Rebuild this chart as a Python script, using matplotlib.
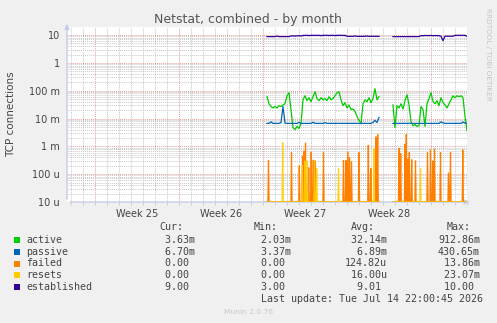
import numpy as np
import matplotlib
matplotlib.use("Agg")
import matplotlib.pyplot as plt

# ---------------------------------------------------------------------------
# Data (time in days since Monday of week 25, values in milli-connections)
# ---------------------------------------------------------------------------
X_MIN, X_MAX = -2.333, 31.0
WEEK_STARTS = [0, 7, 14, 21, 28]
WEEK_LABELS = ["Week 25", "Week 26", "Week 27", "Week 28"]
WEEK_MIDS = [3.5, 10.5, 17.5, 24.5]
Y_MIN, Y_MAX = 1e-5, 19.5
Y_TICKS = [1e-5, 1e-4, 1e-3, 1e-2, 1e-1, 1, 10]
Y_TICK_LABELS = ["10 u", "100 u", "1 m", "10 m", "100 m", "1", "10"]

SEG_A_START = 14.333
SEG_B_START = 24.833
STEP = 1 / 6          # 4 h samples

active_a = [61, 34, 27, 24, 27, 24, 29, 27, 31, 34,
            66, 85, 21, 4.7, 4.0, 5.2, 4.4, 6.5, 47, 66,
            44, 56, 40, 61, 92, 52, 44, 56, 47, 52,
            44, 61, 47, 52, 66, 85, 92, 47, 29, 37,
            24, 31, 21, 22, 18, 12, 8.5, 6.5, 34, 47,
            40, 56, 37, 52, 118, 47, 61]
active_b = [31, 4.7, 29, 24, 34, 22, 44, 72, 31, 7.7,
            5.5, 6.1, 5.2, 5.5, 27, 21, 5.2, 34, 52, 85,
            40, 34, 44, 29, 56, 37, 31, 24, 34, 47,
            66, 56, 66, 61, 66, 56, 12, 3.63]

passive_a = [6.7, 6.7, 7.6, 6.7, 6.7, 6.7, 6.7, 7.2, 27.0, 6.9,
             6.7, 6.7, 6.7, 6.7, 6.7, 6.7, 7.3, 6.7, 6.7, 6.7,
             6.7, 6.7, 6.7, 7.4, 6.7, 6.7, 6.7, 6.7, 6.7, 7.1,
             6.7, 6.7, 6.7, 6.7, 6.7, 6.7, 6.7, 6.7, 6.7, 6.7,
             6.7, 6.7, 6.7, 6.7, 6.7, 6.7, 6.7, 6.7, 6.7, 6.7,
             6.7, 6.7, 6.7, 7.3, 8.6, 7.2, 11.0]
passive_b = [6.7, 6.7, 6.7, 6.7, 6.7, 6.7, 6.7, 6.7, 6.7, 6.7,
             6.7, 6.7, 6.7, 6.7, 6.7, 6.7, 6.7, 6.7, 6.7, 6.7,
             6.7, 6.7, 6.7, 6.7, 7.6, 7.0, 6.7, 6.7, 6.7, 6.7,
             6.7, 6.7, 6.7, 6.7, 6.7, 7.5, 6.9, 6.7]

# established (plain connections, not milli)
established_a = [8.8, 8.8, 8.8, 8.8, 8.8, 9.2, 8.8, 8.8, 8.8, 8.8,
                 8.8, 8.8, 9.3, 9.4, 9.2, 9.4, 9.5, 9.3, 9.7, 9.8,
                 9.8, 9.6, 9.8, 9.8, 9.7, 9.8, 9.8, 9.6, 9.8, 9.8,
                 9.8, 9.7, 9.8, 9.8, 9.6, 9.8, 9.8, 9.8, 9.7, 9.8,
                 9.0, 9.0, 9.0, 9.0, 9.3, 9.0, 9.0, 9.0, 9.0, 9.0,
                 9.2, 9.0, 9.0, 9.0, 9.0, 9.0, 9.0]
established_b = [8.8, 8.8, 8.8, 8.8, 8.8, 8.8, 8.8, 8.8, 8.8, 8.8,
                 8.8, 8.8, 8.8, 8.8, 9.6, 9.5, 9.7, 9.6, 9.6, 9.7,
                 9.5, 9.6, 9.6, 9.5, 9.1, 6.3, 9.2, 9.1, 9.1, 9.1,
                 9.1, 9.8, 9.8, 9.8, 9.8, 9.8, 9.8, 9.0]

# failed / resets are zero except for short spikes (time in days, value in m)
failed_t = [14.458, 16.375, 17.025, 17.292, 17.417, 17.542, 17.808, 18.017,
            18.192, 18.333, 19.042, 20.708, 20.917, 21.058, 21.208, 21.375,
            22.0, 22.775, 22.983, 23.417, 23.558,
            25.333, 25.475, 25.833, 25.942, 26.067, 26.192, 26.392, 26.708,
            27.708, 27.958, 28.15, 28.292, 28.792, 29.458, 29.625, 30.65]
failed_v = [0.31, 0.6, 0.2, 0.45, 0.68, 1.3, 0.17, 0.62,
            0.32, 0.3, 0.6, 0.31, 0.31, 0.62, 0.4, 0.28,
            0.6, 1.1, 0.16, 2.2, 2.7,
            0.85, 0.55, 1.2, 2.7, 0.35, 0.6, 0.33, 0.3,
            0.6, 0.75, 0.3, 0.8, 0.6, 0.11, 0.6, 0.75]
resets_t = [15.642, 17.275, 17.5, 17.692, 18.292, 18.475, 20.292, 23.25, 27.125]
resets_v = [1.36, 0.2, 0.3, 0.3, 0.3, 0.16, 0.16, 0.82, 0.16]

# legend table
names = ["active", "passive", "failed", "resets", "established"]
colors = ["#00CC00", "#0066B3", "#FF8000", "#FFCC00", "#330099"]
cur = [("3.63", "m"), ("6.70", "m"), ("0.00", ""), ("0.00", ""), ("9.00", "")]
mins = [("2.03", "m"), ("3.37", "m"), ("0.00", ""), ("0.00", ""), ("3.00", "")]
avgs = [("32.14", "m"), ("6.89", "m"), ("124.82", "u"), ("16.00", "u"), ("9.01", "")]
maxs = [("912.86", "m"), ("430.65", "m"), ("13.86", "m"), ("23.07", "m"), ("10.00", "")]

W, H = 497, 323
BG = "#F0F0F0"
TXT = "#444444"


def px(x, y):
    return x / W, 1 - y / H


def seg_times(start, n):
    return start + STEP * np.arange(n)


def spike_line(times, vals, t0, t1, hw=0.05):
    xs, ys = [t0], [0.0]
    for t, v in sorted(zip(times, vals)):
        if t0 <= t <= t1:
            xs += [t - hw, t, t + hw]
            ys += [0.0, v, 0.0]
    xs.append(t1)
    ys.append(0.0)
    return np.array(xs), np.maximum(np.array(ys) * 1e-3, Y_MIN)


fig = plt.figure(figsize=(W / 100, H / 100), dpi=100, facecolor=BG)
ax = fig.add_axes([67 / W, (H - 202) / H, 400 / W, 175 / H])
ax.set_facecolor("white")
ax.set_yscale("log")
ax.set_xlim(X_MIN, X_MAX)
ax.set_ylim(Y_MIN, Y_MAX)

# grid
dots = (0, (1, 1))
for d in range(int(np.ceil(X_MIN)), int(np.floor(X_MAX)) + 1):
    major = d in WEEK_STARTS
    ax.axvline(d, color="#e6a0a0" if major else "#c8c8c8", lw=0.7,
               ls=dots, zorder=0)
for e in range(-5, 2):
    for m in range(1, 10):
        v = m * 10.0 ** e
        if Y_MIN <= v <= Y_MAX:
            ax.axhline(v, color="#e6a0a0" if m == 1 else "#c8c8c8",
                       lw=0.7, ls=dots, zorder=0)

# series
lw = 0.9
ta, tb = seg_times(SEG_A_START, len(active_a)), seg_times(SEG_B_START, len(active_b))
ax.plot(ta, np.array(active_a) * 1e-3, color=colors[0], lw=lw, zorder=3)
ax.plot(tb, np.array(active_b) * 1e-3, color=colors[0], lw=lw, zorder=3)
ax.plot(ta, np.array(passive_a) * 1e-3, color=colors[1], lw=lw, zorder=4)
ax.plot(tb, np.array(passive_b) * 1e-3, color=colors[1], lw=lw, zorder=4)
for t0, t1 in [(ta[0], ta[-1]), (tb[0], tb[-1])]:
    fx, fy = spike_line(failed_t, failed_v, t0, t1)
    ax.plot(fx, fy, color=colors[2], lw=lw, zorder=5)
    rx, ry = spike_line(resets_t, resets_v, t0, t1)
    ax.plot(rx, ry, color=colors[3], lw=lw, zorder=6, alpha=0.9)
ax.plot(ta, established_a, color=colors[4], lw=lw, zorder=7)
ax.plot(tb, established_b, color=colors[4], lw=lw, zorder=7)

# axes & ticks
for s in ax.spines.values():
    s.set_visible(False)
ax.set_yticks(Y_TICKS)
ax.set_yticklabels(Y_TICK_LABELS)
ax.yaxis.set_minor_locator(matplotlib.ticker.NullLocator())
ax.set_xticks(WEEK_MIDS)
ax.set_xticklabels(WEEK_LABELS)
ax.set_xticks(range(int(np.ceil(X_MIN)), int(np.floor(X_MAX)) + 1), minor=True)
ax.tick_params(axis="both", which="major", length=0, labelsize=7,
               labelcolor=TXT)
ax.tick_params(axis="y", pad=5)
ax.tick_params(axis="x", pad=5)
ax.tick_params(axis="x", which="minor", length=2, color="#c8c8c8", width=0.6)

axis_col = "#c6cde6"
ax.annotate("", xy=(0, 1.034), xytext=(0, 0), xycoords="axes fraction",
            arrowprops=dict(arrowstyle="-|>", color=axis_col, lw=1,
                            mutation_scale=7), annotation_clip=False)
ax.annotate("", xy=(1.0135, 0), xytext=(0, 0), xycoords="axes fraction",
            arrowprops=dict(arrowstyle="-|>", color=axis_col, lw=1,
                            mutation_scale=7), annotation_clip=False)

# titles
fig.text(*px(248, 19), "Netstat, combined - by month", ha="center",
         va="center", fontsize=9, color="#555555")
fig.text(*px(11, 114), "TCP connections", rotation=90, ha="center",
         va="center", fontsize=7.5, color=TXT)
fig.text(*px(488, 54), "RRDTOOL / TOBI OETIKER", rotation=270, ha="center",
         va="center", fontsize=5.2, color="#c4c4c4")

# legend table
mono = dict(family="DejaVu Sans Mono", fontsize=7.2, color=TXT, va="center")
for hx, h in zip([159, 254, 351, 447], ["Cur:", "Min:", "Avg:", "Max:"]):
    fig.text(*px(hx, 227.5), h, ha="left", **mono)

col_x = [153, 249, 345, 438]
for i, name in enumerate(names):
    y = 239.7 + 11.9 * i
    fig.patches.append(plt.Rectangle(px(14, y + 3), 6 / W, 6 / H,
                                     transform=fig.transFigure,
                                     facecolor=colors[i], edgecolor="none"))
    fig.text(*px(26, y), name, ha="left", **mono)
    for cx, (num, unit) in zip(col_x, [cur[i], mins[i], avgs[i], maxs[i]]):
        fig.text(*px(cx, y), f"{num:>6}{unit}", ha="left", **mono)

fig.text(*px(483, 299.5), "Last update: Tue Jul 14 22:00:45 2026",
         ha="right", **mono)
fig.text(*px(248, 312), "Munin 2.0.76", ha="center", va="center",
         fontsize=5.4, color="#c8c8c8")

fig.savefig("out.png", dpi=100, facecolor=BG)
